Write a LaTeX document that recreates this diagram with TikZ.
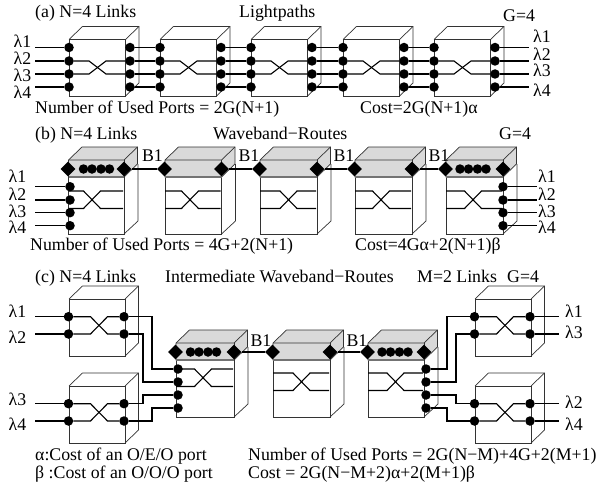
\documentclass[tikz,border=0pt]{standalone}
\usepackage{fontspec}
\setmainfont{Liberation Serif}
\usetikzlibrary{shapes.geometric}
\definecolor{bandgray}{gray}{0.85}
\tikzset{
  boxline/.style={draw=black!80, line width=0.7pt},
  link/.style={draw=black, line width=1.4pt},
  thinlink/.style={draw=black, line width=1.1pt},
  port/.style={circle, fill=black, inner sep=0pt, minimum size=9.5pt},
  band/.style={diamond, fill=black, inner sep=0pt, minimum size=15pt},
  lab/.style={anchor=base west, inner sep=0pt, font=\fontsize{17.8}{20}\selectfont}
}
\newcommand{\oxcbox}[4]{%
  \draw[boxline] (#1,#2) rectangle ++(#3,#4);
  \draw[boxline] (#1,#2) -- ++(13.5,-13) -- ++(#3,0) -- ++(0,#4) -- ++(-13.5,13);
  \draw[boxline] (#1+#3,#2) -- ++(13.5,-13);
}
\newcommand{\xover}[6]{%
  \draw[thinlink] (#1) -- ++(#5,0) -- ++(17,#6) -- (#4);
  \draw[thinlink] (#2) -- ++(#5,0) -- ++(17,-#6) -- (#3);
}
\newcommand{\bandbox}[6]{%
  \draw[boxline] (#2,#3) rectangle ++(#4,74);
  \draw[boxline] (#2+#4+14,#3+4) -- ++(0,57) -- ++(-14,13);
  \draw[boxline, fill=bandgray] (#2,#3) -- ++(13.5,-13) -- ++(#4,0) -- ++(0,17) -- ++(-13.5,13) -- ++(-#4,0) -- cycle;
  \draw[boxline] (#2,#3) -- ++(#4,0) -- ++(13.5,-13);
  \draw[boxline] (#2+#4,#3) -- ++(0,17);
  \draw[draw=black!55, line width=1.3pt] (#2,#3+17) -- ++(#4,0);
  \node[band] (#1l) at (#2-0.5,#3+9) {};
  \node[band] (#1r) at (#2+#4,#3+9) {};
  \coordinate (#1p) at (#2,#3+#5);
  \coordinate (#1q) at (#2,#3+#5+17.5);
  \coordinate (#1s) at (#2+#4-1,#3+#5);
  \coordinate (#1t) at (#2+#4-1,#3+#5+17.5);
  \xover{#1p}{#1q}{#1s}{#1t}{#6}{17.5}
}
\newcommand{\banddots}[3]{%
  \foreach \k/\o in {1/15,2/23.5,3/32.5,4/41} {
    \node[port] (#1d\k) at (#2+\o,#3+9) {};
  }
}
\begin{document}
\begin{tikzpicture}[x=1pt, y=-1pt]
\useasboundingbox (0,0) rectangle (605,487);

\foreach \i/\x in {1/69,2/160,3/251,4/343,5/434} {
  \oxcbox{\x}{39.5}{56.5}{56.5}
  \foreach \j/\y in {1/47.5,2/61,3/74,4/87} {
    \node[port] (a\i l\j) at (\x,\y) {};
    \node[port] (a\i r\j) at (\x+61,\y) {};
  }
  \xover{a\i l2}{a\i l3}{a\i r2}{a\i r3}{20}{13}
}
\foreach \i/\k in {1/2,2/3,3/4,4/5} {
  \foreach \j in {1,2,3,4} {
    \draw[link] (a\i r\j) -- (a\k l\j);
  }
}
\foreach \j/\y/\u/\v in {1/47.5/48/43,2/61/65/60,3/74/81.5/77,4/87/98.5/96} {
  \coordinate (ain\j) at (35,\y);
  \coordinate (aout\j) at (529,\y);
  \draw[link] (ain\j) -- (a1l\j);
  \draw[link] (a5r\j) -- (aout\j);
  \node[lab] (alamin\j) at (13.5,\u) {λ\j};
  \node[lab] (alamout\j) at (533,\v) {λ\j};
}
\node[lab] (atitle) at (35,18) {(a) N=4 Links};
\node[lab] (aname) at (239,18) {Lightpaths};
\node[lab] (agroup) at (503,21.5) {G=4};
\node[lab] (aports) at (35,113) {Number of Used Ports = 2G(N+1)};
\node[lab] (acost) at (360,113) {Cost=2G(N+1)α};

\foreach \i/\x/\w/\d in {1/68.5/55.5/15,2/165/56.5/16.5,3/260/57/20,4/355/57/17.5,5/446/57/18.5} {
  \bandbox{b\i}{\x}{160}{\w}{31}{\d}
}
\banddots{b1}{68.5}{160}
\banddots{b5}{445}{160}
\foreach \i/\k/\x in {1/2/152.5,2/3/249,3/4/344,4/5/439} {
  \draw[thinlink] (b\i r) -- (b\k l);
  \node[lab, anchor=base] (bb\i) at (\x,161) {B1};
}
\foreach \j/\y/\u in {1/186.7/182.5,2/200/200,3/212.7/217,4/225.7/233.5} {
  \node[port] (bl\j) at (70,\y) {};
  \node[port] (br\j) at (503,\y) {};
  \coordinate (bin\j) at (35,\y);
  \coordinate (bout\j) at (537,\y);
  \draw[link] (bin\j) -- (bl\j);
  \draw[link] (br\j) -- (bout\j);
  \node[lab] (blamin\j) at (8.5,\u) {λ\j};
  \node[lab] (blamout\j) at (538,\u) {λ\j};
}
\node[lab] (btitle) at (35,139) {(b) N=4 Links};
\node[lab] (bname) at (213,139) {Waveband−Routes};
\node[lab] (bgroup) at (499,139) {G=4};
\node[lab] (bports) at (30,250) {Number of Used Ports = 4G+2(N+1)};
\node[lab] (bcost) at (355,250) {Cost=4Gα+2(N+1)β};

\foreach \n/\x/\y in {tl/69/299,bl/69/386,tr/475/299,br/475/386} {
  \oxcbox{\x}{\y}{56}{57}
  \node[port] (\n a) at (\x-0.5,\y+17.7) {};
  \node[port] (\n b) at (\x-0.5,\y+35) {};
  \node[port] (\n c) at (\x+55,\y+17.7) {};
  \node[port] (\n d) at (\x+55,\y+35) {};
  \xover{\n a}{\n b}{\n c}{\n d}{22}{17.3}
}
\bandbox{c1}{176}{343}{58}{26}{18.5}
\bandbox{c2}{273}{343}{57}{30}{20}
\bandbox{c3}{368}{343}{56}{30}{19}
\banddots{c1}{175.5}{343}
\banddots{c3}{367}{343}
\draw[thinlink] (c1r) -- (c2l);
\draw[thinlink] (c2r) -- (c3l);
\node[lab, anchor=base] (cb1) at (261,346.5) {B1};
\node[lab, anchor=base] (cb2) at (357,346.5) {B1};
\foreach \j/\y in {1/369,2/382,3/395,4/408} {
  \node[port] (cl\j) at (178,\y) {};
  \node[port] (cr\j) at (426,\y) {};
}
\foreach \n/\y in {ta/316.7,tb/334,ba/403.7,bb/421} {
  \coordinate (cin\n) at (35,\y);
}
\draw[link] (cinta) -- (tla);
\draw[link] (cintb) -- (tlb);
\draw[link] (cinba) -- (bla);
\draw[link] (cinbb) -- (blb);
\draw[link] (tlc) -- (152,316.7) |- (cl1);
\draw[link] (tld) -- (143,334) |- (cl2);
\draw[link] (blc) -- (143,403.7) |- (cl3);
\draw[link] (bld) -- (152,421) |- (cl4);
\draw[link] (cr1) -- (447,369) |- (tra);
\draw[link] (cr2) -- (456,382) |- (trb);
\draw[link] (cr3) -- (456,395) |- (bra);
\draw[link] (cr4) -- (447,408) |- (brb);
\foreach \n/\y in {ta/316.7,tb/334,ba/403.7,bb/421} {
  \coordinate (cout\n) at (559,\y);
}
\draw[link] (trc) -- (coutta);
\draw[link] (trd) -- (couttb);
\draw[link] (brc) -- (coutba);
\draw[link] (brd) -- (coutbb);
\node[lab] (clam1) at (8.5,317) {λ1};
\node[lab] (clam2) at (8.5,343) {λ2};
\node[lab] (clam3) at (8.5,405) {λ3};
\node[lab] (clam4) at (8.5,430) {λ4};
\node[lab] (crlam1) at (565,317) {λ1};
\node[lab] (crlam3) at (565,338) {λ3};
\node[lab] (crlam2) at (565,408) {λ2};
\node[lab] (crlam4) at (565,430) {λ4};
\node[lab] (ctitle) at (35,282) {(c) N=4 Links};
\node[lab] (cname) at (165,282) {Intermediate Waveband−Routes};
\node[lab] (cmid) at (417,282) {M=2 Links};
\node[lab] (cgroup) at (507,282) {G=4};
\node[lab] (calpha) at (35,460) {α:Cost of an O/E/O port};
\node[lab] (cbeta) at (35,478) {β :Cost of an O/O/O port};
\node[lab] (cports) at (248,460) {Number of Used Ports = 2G(N−M)+4G+2(M+1)};
\node[lab] (ccost) at (248,478) {Cost = 2G(N−M+2)α+2(M+1)β};
\end{tikzpicture}
\end{document}
